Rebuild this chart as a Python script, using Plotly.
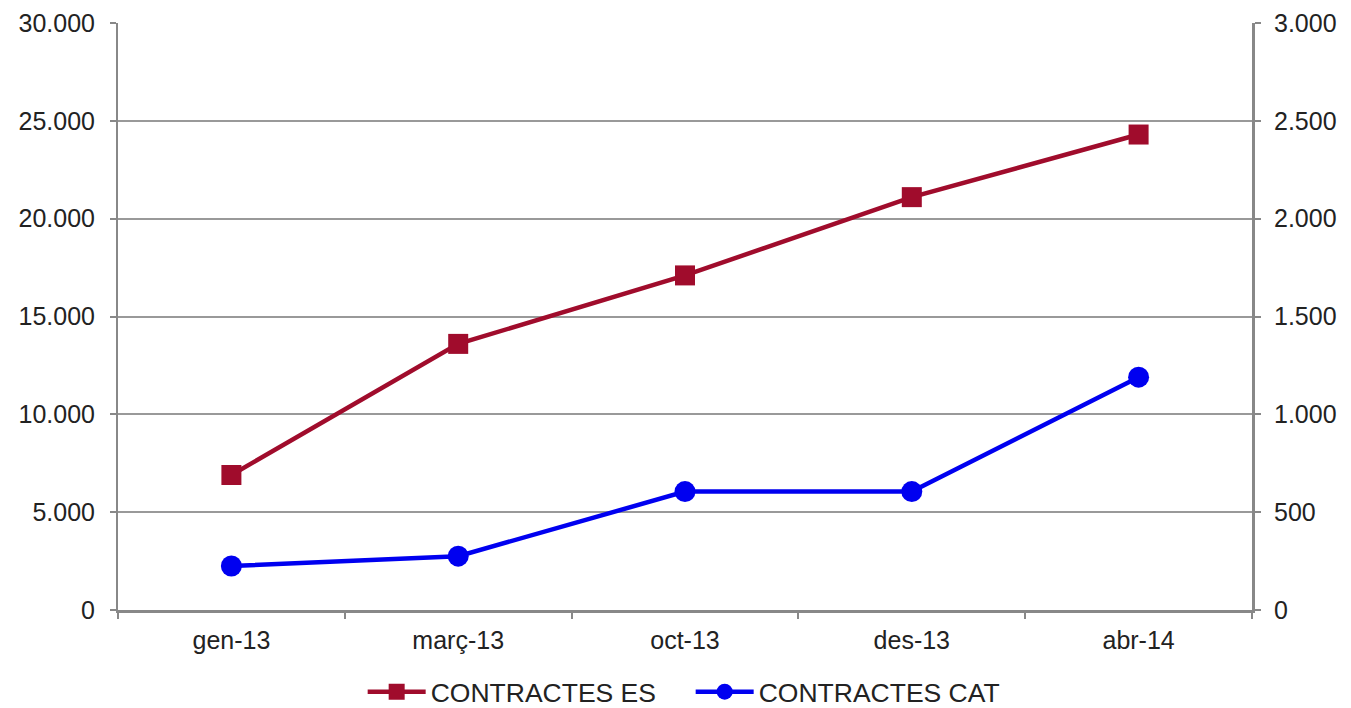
import plotly.graph_objects as go

categories = ["gen-13", "març-13", "oct-13", "des-13", "abr-14"]
contractes_es = [6900, 13600, 17100, 21100, 24300]
contractes_cat = [225, 275, 605, 605, 1190]

left_ticks = [0, 5000, 10000, 15000, 20000, 25000, 30000]
right_ticks = [0, 500, 1000, 1500, 2000, 2500, 3000]

fig = go.Figure()
fig.add_trace(go.Scatter(
    x=categories, y=contractes_es, name="CONTRACTES ES", mode="lines+markers",
    line=dict(color="#A00C2C", width=4.5),
    marker=dict(symbol="square", size=20, color="#A00C2C"),
    yaxis="y"))
fig.add_trace(go.Scatter(
    x=categories, y=contractes_cat, name="CONTRACTES CAT", mode="lines+markers",
    line=dict(color="#0000F0", width=4.5),
    marker=dict(symbol="circle", size=21, color="#0000F0"),
    yaxis="y2"))

font = dict(family="Liberation Sans, Arial, sans-serif", size=25, color="#222222")

fig.update_layout(
    width=1351, height=708,
    margin=dict(l=110, r=107, t=15, b=106),
    paper_bgcolor="white", plot_bgcolor="white",
    separators=",.",
    font=font,
    showlegend=True,
    legend=dict(orientation="h", x=0.505, xanchor="center",
                yref="container", y=0.034, yanchor="middle",
                font=dict(family="Liberation Sans, Arial, sans-serif", size=26.5, color="#222222"),
                itemwidth=58, entrywidth=255, tracegroupgap=0),
    xaxis=dict(
        type="category", range=[-0.5, 4.5], automargin=False,
        showline=True, linecolor="#888888", linewidth=3,
        showgrid=False, ticks="outside", ticklen=6, tickcolor="#888888", tickwidth=2,
        tickson="boundaries", tickfont=font, zeroline=False, ticklabelstandoff=6),
    yaxis=dict(
        range=[0, 30000], tickvals=left_ticks, tickformat=",d", automargin=False,
        showline=True, linecolor="#888888", linewidth=2,
        showgrid=True, gridcolor="#999999", gridwidth=2,
        ticks="outside", ticklen=6, tickcolor="#888888", tickwidth=2,
        tickfont=font, zeroline=False, ticklabelstandoff=10),
    yaxis2=dict(
        range=[0, 3000], tickvals=right_ticks, tickformat=",d", automargin=False,
        overlaying="y", side="right",
        showline=True, linecolor="#888888", linewidth=3,
        showgrid=False, ticks="outside", ticklen=6, tickcolor="#888888", tickwidth=2,
        tickfont=font, zeroline=False, ticklabelstandoff=8),
)

fig.write_html("out.html")
